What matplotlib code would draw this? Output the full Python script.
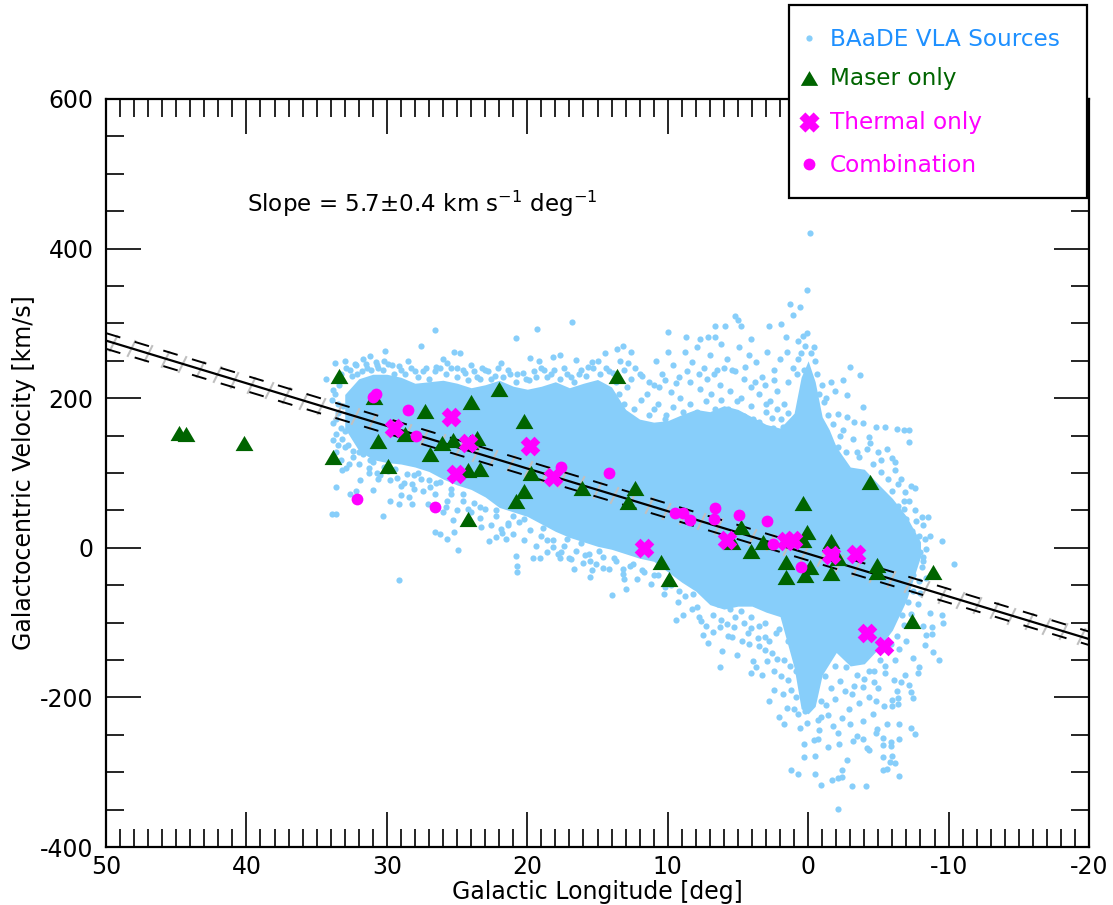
import numpy as np
import matplotlib
matplotlib.use('Agg')
import matplotlib.pyplot as plt
from matplotlib.lines import Line2D
from matplotlib.patches import Rectangle
from matplotlib.path import Path

# individual VLA sources: edges, outliers, sparse parts
vla_points = [
(-0.1,421),(0.1,345),(1.3,326),(0.6,322),(1.1,311),(2.8,296),(1.9,299),(5.2,310),(5.0,305),(4.8,297),
(6.6,296),(5.9,296),(10,288),(8.7,282),(7.7,279),(7.1,282),(6.6,282),(4.1,279),(1.6,282),(0.1,287),
(0.4,283),(0.7,277),(0.2,270),(-0.4,268),(0.5,260),(-0.2,260),(-3,242),(-3.7,231),(-1.6,222),(-2.5,224),
(-1.9,210),(-2.8,204),(-3.9,188),(-2.1,179),(-2.8,175),(-3.3,168),(-3.9,167),(-4.8,161),(-5.5,162),(-6.3,159),
(-6.8,157),(-7.2,157),(-7.2,141),(-4.3,148),(-5.6,132),(-5,128),(-6.2,115),(-6.2,104),(-6.4,85),(-7.3,83),
(-7.6,80),(-6.9,75),(-6.8,63),(-6.8,52),(-8.1,41),(-8.5,41),(-7.7,36),(-8.7,16),(-9.5,9),(-10.4,-22),
(-7.4,6),(-7.1,0),(-7.5,-12),(-8.1,-25),(-7.5,-36),(-8.7,-87),(-9.5,-90),(-9.6,-100),(-8.2,-105),(-8.8,-106),
(-8.4,-117),(-8.8,-115),(-8.3,-130),(-8.9,-139),(-9.3,-150),(-7.5,-147),(-7.9,-160),(-7.8,-167),(-6.9,-170),(-7.2,-183),
(-7.3,-193),(-7.5,-201),(-6.6,-179),(-6.1,-177),(-6.3,-191),(-6.4,-201),(-6.4,-209),(-6,-203),(-6,-211),(-7.3,-241),
(-7.6,-249),(-6.5,-236),(-6.5,-256),(-5.9,-260),(-5.9,-265),(-4.9,-242),(-4.8,-248),(-5.3,-254),(-5.3,-264),(-4.3,-270),
(-5.3,-280),(-6,-278),(-5.8,-286),(-6.2,-288),(-5.6,-296),(-5.3,-297),(-6.5,-305),(-4.1,-318),(-3.1,-318),(-2.4,-306),
(-2.1,-308),(-1.7,-310),(-2.4,-297),(-0.5,-302),(-0.9,-317),(0.7,-302),(1.2,-297),(-2.1,-349),(0.3,-280),(-0.5,-278),
(-2.8,-284),(-1.4,-266),(-4.2,-268),(0.3,-262),(-0.4,-257),(-0.7,-255),(-3.5,-252),(-3.9,-256),(-2.1,-248),(-3,-236),
(-2.4,-228),(-0.9,-226),(-1.4,-224),(0.1,-234),(0.6,-241),(2.1,-226),(1.5,-214),(0.9,-199),(1.9,-171),(1.4,-177),
(6.3,-160),(4.1,-167),(3.9,-151),(3.7,-159),(5.1,-143),(6.1,-138),(3.1,-137),(3.5,-131),(4.2,-129),(7.1,-127),
(7.5,-117),(5.4,-119),(3.1,-119),(2.3,-114),(4.3,-114),(4.1,-107),(5.3,-106),(6.3,-106),(5.8,-102),(4.6,-100),
(7.6,-98),(9.4,-96),(8.9,-90),(7.9,-79),(6.8,-90),(29.1,-43),(30.3,42),(33.9,45),(33.6,45),(33.6,81),
(31.9,90),(32.6,72),(32.2,76),(31,77),(29.8,63),(29,71),(29.1,59),(28.2,59),(28.4,68),(27.1,59),
(28.1,78),(26.9,81),(26,48),(25.7,63),(26.6,21),(26.2,19),(25.7,12),(25.2,21),(25.3,37),(24.9,-3),
(23.3,28),(22.7,9),(22.2,14),(21.5,12),(21.9,25),(21.4,33),(20.8,-11),(20.7,-24),(20.7,-32),(19.6,-14),
(19.1,-13),(18.2,1),(18.6,10),(17.6,-5),(17.7,-13),(16.9,-15),(16.7,-28),(15.9,-10),(15.5,-17),(15.4,-30),
(15.5,-39),(14.6,-27),(13.2,-28),(13,-55),(14,-63),(13.1,-42),(26.6,291),(19.3,292),(16.8,302),(20.8,280),
(27.6,270),(25.2,262),(24.8,260),(30.1,263),(31.2,256),(33.7,247),(33,250),(32.3,246),(31.7,253),(30.8,249),
(30.2,250),(28.5,250),(26,252),(24,245),(19.8,254),(18.2,255),(17.7,258),(21.9,247),(23.2,240),(19.2,250),
(16.5,251),(15.4,248),(14.5,260),(13.6,266),(13.2,270),(12.8,247),(34.3,226),(33.8,211),(33.9,198),(33.8,167),
(33.8,144),(33.5,137),(33.2,104),(32.9,107),(32.4,121),(31.3,107),(30.7,100),(30.5,97),(29.3,93),(28.8,87),
(28.1,97),(33.4,218),(33.1,190),(33.5,180),(33,156),(32.6,238),(32.1,232),(31.4,240),(30.6,240),(29.6,244),
(29,238),(28,236),(27.2,240),(26.5,242),(25.7,247),(25,240),(24.4,234),(23.6,228),(22.8,236),(22.3,230),
(21.4,238),(20.7,232),(20.1,226),(19.5,236),(18.8,238),(18.3,232),(17.4,240),(16.9,228),(16.2,238),(15.7,242),
(15,250),(14.4,240),(13.9,234),(13.4,250),(12.6,262),(12.3,240),(11.8,230),(11.3,222),(10.8,250),(10.4,232),
(10,262),(9.6,245),(9.2,228),(8.8,262),(8.3,248),(7.9,268),(7.4,240),(7,258),(6.7,232),(6.2,272),
(5.8,252),(5.4,238),(4.9,268),(4.5,242),(4.2,258),(3.7,248),(3.3,228),(2.9,262),(2.4,238),(2,252),
(1.5,262),(1.1,240),(0.7,252),(0.3,238),(-0.6,232),(-1,218),(-1.3,200),(11.5,205),(10.6,215),(9.8,208),
(9.1,200),(8.4,222),(7.7,212),(6.9,205),(6.3,218),(5.6,210),(4.8,200),(4.1,215),(3.5,205),(2.7,196),
(2.2,210),(1.7,192),(12.9,215),(13.5,205),(11,185),(10.1,178),(8.9,182),(8,172),(6.6,185),(5.2,178),
(3.9,172),(3,182),(2.5,160),(1.9,172),(-1.8,165),(-2.3,150),(-2.7,128),(-3.2,145),(-3.6,122),(-4.2,132),
(-4.6,112),(-5.2,102),(-5.7,92),(-6,76),(-5.5,68),(-6.4,56),(-7,38),(-7.4,22),(-6.9,12),(-8,-5),
(-8.4,-40),(-8,-60),(-7.8,-75),(-7.3,-88),(-6.8,-103),(-7,-125),(-6.5,-135),(-6.2,-150),(-5.5,-158),(-4.7,-165),
(-4,-176),(-3.3,-185),(-2.6,-192),(-1.9,-202),(-1.3,-210),(-5,-188),(-4.3,-200),(-3.6,-208),(-2.9,-215),(-5.4,-212),
(-4.6,-222),(-3.9,-232),(-1.8,-238),(-0.8,-243),(0.2,-218),(1,-215),(1.8,-195),(2.4,-165),(2.9,-152),(2.2,-148),
(2.8,-125),(3.5,-105),(4.8,-85),(5.6,-82),(6.4,-75),(7.2,-66),(8.2,-62),(9.2,-58),(10.2,-52),(11,-36),
(11.8,-30),(12.5,-22),(13.8,-14),(14.9,-4),(16.2,6),(17.2,12),(18.9,26),(20.2,38),(21,42),(22.2,50),
(23.4,55),(24.6,62),(25.4,72),(26.5,86),(27.6,92),(29.9,103),(31.2,118),(32,128),(32.8,138),(24,48),
(33.3,232),(32.9,240),(32.5,230),(32.2,244),(31.8,236),(31.5,246),(31.1,238),(30.7,244),(30.3,238),(29.9,246),
(29.5,232),(29.1,243),(28.7,232),(28.3,240),(27.8,228),(27.4,236),(27,226),(26.6,236),(26.2,240),(25.8,232),
(25.4,240),(25,228),(24.6,238),(24.2,224),(23.8,236),(23.4,226),(23,238),(22.6,226),(22.1,240),(21.7,228),
(21.2,232),(20.8,222),(20.3,234),(19.9,224),(19.4,228),(19,240),(18.6,228),(18.1,238),(17.7,226),(17.2,232),
(16.7,222),(16.3,232),(15.8,230),(15.3,240),(14.8,232),(14.2,236),(13.7,222),(13.1,238),(12.6,226),(12,232),
(33.6,128),(33.3,118),(33,135),(32.7,112),(32.4,130),(32,112),(31.7,125),(31.3,100),(31,115),(30.6,92),
(30.2,108),(29.8,90),(29.4,105),(29,82),(28.6,98),(28.2,85),(27.8,100),(27.4,76),(27,90),(26.6,72),
(26.2,88),(25.8,55),(25.4,78),(25,50),(24.6,72),(24.2,52),(23.8,60),(23.4,40),(23,52),(22.6,30),
(22.2,42),(21.8,20),(21.4,30),(21,18),(20.6,34),(20.2,10),(19.8,24),(19.4,2),(19,16),(18.6,-5),
(18.2,10),(17.8,-8),(17.4,2),(17,-14),(16.5,-4),(16,-20),(15.6,-8),(15.1,-22),(14.6,-12),(14.2,-28),
(13.7,-18),(13.2,-35),(12.7,-24),(12.2,-42),(11.7,-32),(11.2,-48),(10.7,-36),(10.3,-62),(9.8,-50),(9.3,-72),
(8.8,-64),(8.3,-82),(7.8,-92),(7.3,-104),(6.8,-112),(6.2,-96),(5.7,-118),(5.2,-92),(4.7,-124),(4.1,-92),
(3.6,-120),(3.1,-100),(2.6,-140),(2.1,-108),(1.7,-150),(1.4,-125),(1.2,-190),(0.9,-165),(0.7,-222),(-0.7,-230),
(-0.9,-205),(-1.2,-172),(-1.6,-188),(-1.9,-158),(-2.3,-178),(-2.7,-160),(-3.1,-195),(-3.5,-170),(-3.9,-186),(-4.3,-165),
(-4.7,-180),(-5.1,-150),(-5.5,-168),(-5.9,-128),(-6.3,-118),(-6.7,-90),(-7.1,-72),(-7.5,-58),(-7.9,-44),(-8.2,-18),
(-8.4,-2),(-7.9,16),(-8.2,30),(-7.6,50),(-7.2,62),(-6.6,92),(-6,120),(-5.2,118),(-4.4,140),(-3.5,128),
(-2.5,158),(-2.1,135),(-1.4,178),(-1.1,195),(-0.8,205),(-0.5,250),(0.8,232),(1.4,222),(2.4,224),(3.1,218),
(3.8,222),(4.6,226),(5.2,236),(6,240),(6.5,238),(7.2,226),(7.8,232),(8.6,236),(9.4,220),(10.2,224),
(11,218),(1.3,-158),(2.4,-190),(3.3,-170),(2.8,-205),(1.7,-235),(-2.2,-262),(-3.2,-258),(-4.8,-205),(-5.6,-235),
(33.7,205),(33.5,192),(33.6,172),(33.3,160),(33.6,152),(33.2,145),(13.1,192),(12.4,185),(11.9,198),(11.3,178),
(10.7,192),(10.2,172),(9.6,188),(9,168),(8.4,192),(7.9,182),(7.3,196),(6.8,172),(6.2,198),(5.7,186),
(5.1,196),(4.6,176),(4.1,190),(3.5,168),(3,192),(2.6,174),(2.2,186),(1.8,162),(1.4,180),(-8.3,12),(-8.2,-12),
]

# dense core of the cloud, too crowded to read point by point: velocity range per longitude
core_lon = [33, 32, 31, 30, 29, 28, 27, 26, 25, 24, 23, 22, 21, 20, 19, 18, 17, 16, 15, 14, 13, 12, 11, 10, 9, 8, 7, 6, 5, 4, 3, 2, 1, 0.5, 0, -0.5, -1, -1.5, -2, -3, -4, -5, -6, -7, -8]
core_high = [205, 226, 232, 232, 228, 220, 222, 224, 220, 214, 218, 224, 216, 212, 216, 222, 214, 220, 225, 215, 185, 172, 168, 170, 178, 185, 182, 190, 185, 175, 165, 160, 180, 228, 250, 222, 175, 158, 135, 108, 105, 85, 66, 42, 8]
core_low = [160, 130, 118, 114, 112, 108, 102, 92, 84, 78, 68, 54, 48, 42, 32, 22, 14, 8, 2, -2, -8, -14, -18, -32, -46, -58, -76, -82, -78, -78, -86, -92, -160, -215, -222, -212, -170, -155, -140, -158, -155, -135, -110, -70, -12]

maser_lon = [33.4, 44.8, 44.3, 40.2, 33.8, 30.9, 30.6, 29.9, 28.7, 27.3, 26.9, 26.1, 25.3, 24.0, 23.6, 24.1, 24.2, 23.4, 24.2, 22.0, 20.2, 20.8, 20.2, 19.7, 16.1, 13.6, 12.3, 12.8, 10.5, 9.9, 4.8, 5.4, 4.1, 3.2, 1.6, 1.6, 0.1, 0.4, 0.4, -0.1, 0.2, -1.6, -2.1, -1.6, -4.9, -4.9, -8.9, -7.4, -4.4]
maser_vel = [230, 153, 152, 140, 121, 201, 143, 109, 152, 183, 125, 140, 144, 195, 147, 141, 104, 105, 38, 212, 170, 62, 76, 100, 80, 230, 80, 61, -19, -42, 28, 8, -4, 8, -19, -39, 21, 10, 60, -25, -36, 9, -14, -34, -23, -32, -32, -98, 88]

thermal_lon = [29.5, 25.4, 25.1, 24.2, 19.8, 18.2, 11.7, 5.8, 1.6, 1.1, -1.6, -3.4, -4.2, -5.4]
thermal_vel = [160, 175, 99, 140, 136, 95, 0, 10, 9, 10, -10, -8, -114, -131]

combo_lon = [30.8, 31.0, 28.5, 27.9, 32.1, 26.6, 17.6, 14.2, 9.5, 8.9, 8.4, 6.6, 6.7, 4.9, 2.9, 2.5, 0.5, -1.8]
combo_vel = [205, 201, 184, 150, 65, 55, 108, 100, 47, 47, 37, 53, 38, 44, 36, 5, -25, -8]

fit_lon = [50, -20]
fit_vel = [277, -122]
fit_up = [287, -112]
fit_lo = [266, -130]

legend_labels = ['BAaDE VLA Sources', 'Maser only', 'Thermal only', 'Combination']
legend_colors = ['dodgerblue', 'darkgreen', 'magenta', 'magenta']

plt.rcParams['font.family'] = 'DejaVu Sans'
plt.rcParams['font.size'] = 17

W, H = 1113, 905
fig = plt.figure(figsize=(W/100, H/100), dpi=100)
ax = fig.add_axes([106/W, 1-847/H, 983/W, 748/H])

# marker shapes: flat triangle and fat cross
tri = [(-1, -0.85), (1, -0.85), (0, 0.85), (-1, -0.85)]
w = 0.42
plus = np.array([(w, 1), (w, w), (1, w), (1, -w), (w, -w), (w, -1), (-w, -1), (-w, -w), (-1, -w), (-1, w), (-w, w), (-w, 1), (w, 1)])
cross = (plus @ np.array([[1, 1], [-1, 1]]) / np.sqrt(2)).tolist()
slash = Path([(-0.5, -1), (0.5, 1)])

ax.fill_between(core_lon, core_low, core_high, color='lightskyblue', lw=0, zorder=1)
vla_lon, vla_vel = zip(*vla_points)
ax.scatter(vla_lon, vla_vel, s=20, color='lightskyblue', linewidths=0, zorder=2)

slash_lon = np.arange(-19.4, 50, 1.23)
slash_vel = np.interp(slash_lon, fit_lon[::-1], fit_vel[::-1])
ax.plot(slash_lon, slash_vel, ls='', marker=slash, ms=12, mew=1.5, mec='silver', mfc='none', zorder=2.5)

ax.plot(fit_lon, fit_vel, color='k', lw=1.6, zorder=3)
ax.plot(fit_lon, fit_up, color='k', lw=1.4, dashes=(7.7, 7.7), zorder=3)
ax.plot(fit_lon, fit_lo, color='k', lw=1.4, dashes=(7.7, 7.7), zorder=3)

ax.scatter(maser_lon, maser_vel, s=165, marker=tri, color='darkgreen', linewidths=0, zorder=4)
ax.scatter(thermal_lon, thermal_vel, s=200, marker=cross, color='magenta', linewidths=0, zorder=5)
ax.scatter(combo_lon, combo_vel, s=72, marker='o', color='magenta', linewidths=0, zorder=5)

ax.set_xlim(50, -20)
ax.set_ylim(-400, 600)
ax.set_xticks(np.arange(-20, 51, 10))
ax.set_xticks(np.arange(-20, 51, 1), minor=True)
ax.set_yticks(np.arange(-400, 601, 200))
ax.set_yticks(np.arange(-400, 601, 50), minor=True)
ax.set_xticklabels(['-20', '-10', '0', '10', '20', '30', '40', '50'])
ax.set_yticklabels(['-400', '-200', '0', '200', '400', '600'])
ax.tick_params(which='major', direction='in', length=25, width=1.2, top=True, right=True)
ax.tick_params(which='minor', direction='in', length=13, width=1.2, top=True, right=True)
ax.tick_params(axis='x', which='major', pad=5.5)
ax.tick_params(axis='y', which='major', pad=9)
for s in ax.spines.values():
    s.set_linewidth(1.6)

ax.set_xlabel('Galactic Longitude [deg]', labelpad=1)
ax.set_ylabel('Galactocentric Velocity [km/s]', labelpad=3)
fig.text(247/W, 1-204/H, 'Slope = 5.7\u00b10.4 km s$^{-1}$ deg$^{-1}$', fontsize=16.6, va='center', ha='left')

# legend box sits half outside the axes, placed by hand
fig.add_artist(Rectangle((789/W, 1-198/H), 298/W, 193/H, transform=fig.transFigure, fc='white', ec='k', lw=1.6, zorder=10))
legend_y = [39, 79, 123, 165]
legend_marks = [('o', 4.5, 'lightskyblue'), (tri, 12.5, 'darkgreen'), (cross, 14.5, 'magenta'), ('o', 8.5, 'magenta')]
for lab, col, y, (mk, ms, mc) in zip(legend_labels, legend_colors, legend_y, legend_marks):
    fig.add_artist(Line2D([809/W], [1-(y-1)/H], transform=fig.transFigure, ls='', marker=mk, ms=ms,
                          mfc=mc, mec=mc, mew=0, zorder=11))
    fig.text(830/W, 1-y/H, lab, color=col, fontsize=16.7, va='center', ha='left', zorder=11)

fig.savefig('out.png', dpi=100)
